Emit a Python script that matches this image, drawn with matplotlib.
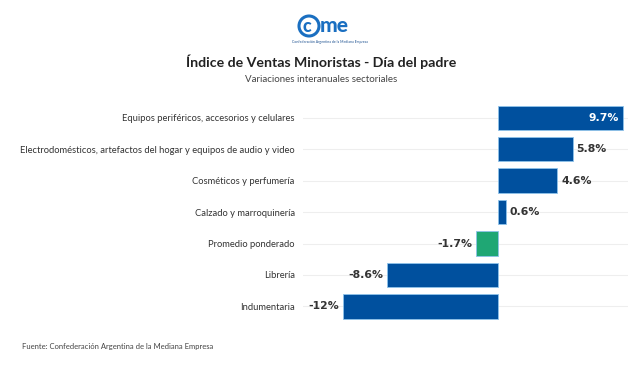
import matplotlib.pyplot as plt
from matplotlib.patches import Circle

BLUE = "#00509e"
GREEN = "#1fa774"
EDGE = "#8fc3ea"
TEXT = "#333333"

categories = [
    "Equipos periféricos, accesorios y celulares",
    "Electrodomésticos, artefactos del hogar y equipos de audio y video",
    "Cosméticos y perfumería",
    "Calzado y marroquinería",
    "Promedio ponderado",
    "Librería",
    "Indumentaria",
]
values = [9.7, 5.8, 4.6, 0.6, -1.7, -8.6, -12]
value_labels = ["9.7%", "5.8%", "4.6%", "0.6%", "-1.7%", "-8.6%", "-12%"]
highlight = "Promedio ponderado"

plt.rcParams["font.family"] = ["Lato", "DejaVu Sans"]

fig = plt.figure(figsize=(6.42, 3.72), dpi=100, facecolor="white")
ax = fig.add_axes([0.472, 0.134, 0.506, 0.592])

ypos = list(range(len(categories)))
colors = [GREEN if c == highlight else BLUE for c in categories]
ax.barh(ypos, values, height=0.77, color=colors, edgecolor=EDGE, linewidth=0.6, zorder=3)
ax.set_ylim(len(categories) - 0.5, -0.5)
ax.set_xlim(-15.1, 10.08)

for y in ypos:
    ax.axhline(y, color="#eeeeee", linewidth=0.8, zorder=1)

lab_font = dict(fontsize=7.8, fontweight="bold", family="DejaVu Sans", zorder=4)
for y, v, lab in zip(ypos, values, value_labels):
    if v >= 9:
        ax.text(v - 0.3, y, lab, ha="right", va="center", color="white", **lab_font)
    elif v >= 0:
        ax.text(v + 0.3, y, lab, ha="left", va="center", color=TEXT, **lab_font)
    else:
        ax.text(v - 0.3, y, lab, ha="right", va="center", color=TEXT, **lab_font)

ax.set_yticks(ypos)
ax.set_yticklabels(categories, fontsize=6.75, color=TEXT)
ax.tick_params(axis="y", length=0, pad=6)
ax.set_xticks([])
for s in ax.spines.values():
    s.set_visible(False)

# titles
fig.text(0.5, 1 - 62 / 372, "Índice de Ventas Minoristas - Día del padre", ha="center",
         va="center", fontsize=10.2, fontweight="bold", color="#222222")
fig.text(0.5, 1 - 80 / 372, "Variaciones interanuales sectoriales", ha="center",
         va="center", fontsize=7, color="#444444")
fig.text(22 / 642, 1 - 347 / 372, "Fuente: Confederación Argentina de la Mediana Empresa",
         ha="left", va="center", fontsize=5.5, color="#444444")

# logo
lax = fig.add_axes([290 / 642, 1 - 50 / 372, 80 / 642, 40 / 372])
lax.set_xlim(0, 80)
lax.set_ylim(0, 40)
lax.axis("off")
lax.add_patch(Circle((19, 24), 10, fill=False, edgecolor="#1a6fc1", linewidth=2.2))
lax.text(17, 23.5, "c", ha="center", va="center", fontsize=13, fontweight="black",
         color="#1a6fc1")
lax.text(44, 24, "me", ha="center", va="center", fontsize=15, fontweight="black",
         color="#1a6fc1")
lax.text(40, 8, "Confederación Argentina de la Mediana Empresa", ha="center",
         va="center", fontsize=2.5, color="#1a4f8f")

fig.savefig("out.png", dpi=100, facecolor="white")
